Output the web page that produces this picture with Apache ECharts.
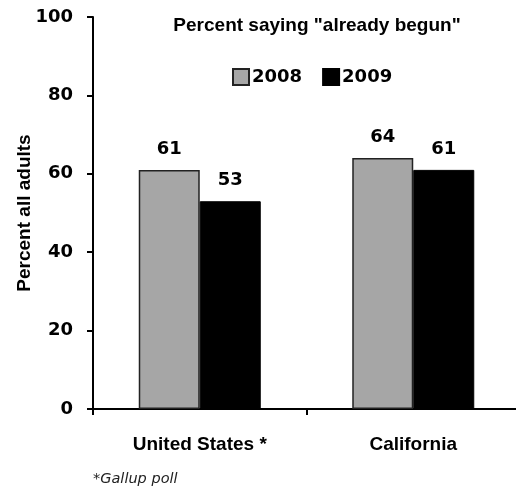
<!DOCTYPE html>
<html>
<head>
<meta charset="utf-8">
<script src="https://cdn.jsdelivr.net/npm/echarts@6/dist/echarts.min.js"></script>
<style>
  html, body { margin: 0; padding: 0; background: #fff; }
  #chart { width: 516px; height: 489px; }
</style>
</head>
<body>
<div id="chart"></div>
<script>
// Share of adults saying global warming has "already begun"
const categories = ['United States *', 'California'];
const years = ['2008', '2009'];
const values2008 = [61, 64];
const values2009 = [53, 61];
const yTicks = [0, 20, 40, 60, 80, 100];

const numFont = 'DejaVu Sans';
const textFont = 'Liberation Sans';

const chart = echarts.init(document.getElementById('chart'), null, { renderer: 'canvas' });

const labelStyle = {
  show: true,
  position: 'top',
  distance: 12,
  fontFamily: numFont,
  fontWeight: 'bold',
  fontSize: 18,
  color: '#000'
};

chart.setOption({
  animation: false,
  backgroundColor: '#fff',
  title: {
    text: 'Percent saying "already begun"',
    left: 312,
    top: 11,
    textAlign: 'center',
    textStyle: { fontFamily: textFont, fontWeight: 'bold', fontSize: 19, color: '#000' }
  },
  legend: {
    data: years,
    left: 227,
    top: 63,
    itemWidth: 16,
    itemHeight: 16,
    itemGap: 20,
    icon: 'rect',
    textStyle: { fontFamily: numFont, fontWeight: 'bold', fontSize: 18, color: '#000', padding: [0, 0, 0, -2] }
  },
  grid: { left: 93, right: -4, top: 17, bottom: 80, containLabel: false, outerBoundsMode: 'none' },
  xAxis: {
    type: 'category',
    data: categories,
    axisLine: { lineStyle: { color: '#000', width: 2 } },
    axisTick: { show: true, length: 6, inside: false, lineStyle: { color: '#000', width: 2 } },
    axisLabel: { margin: 26, fontFamily: textFont, fontWeight: 'bold', fontSize: 19, color: '#000' }
  },
  yAxis: {
    type: 'value',
    min: yTicks[0],
    max: yTicks[yTicks.length - 1],
    interval: yTicks[1] - yTicks[0],
    name: 'Percent all adults',
    nameLocation: 'middle',
    nameGap: 59,
    nameMoveOverlap: false,
    nameTextStyle: { fontFamily: textFont, fontWeight: 'bold', fontSize: 19, color: '#000' },
    axisLine: { show: true, lineStyle: { color: '#000', width: 2 } },
    axisTick: { show: true, length: 6, lineStyle: { color: '#000', width: 2 } },
    splitLine: { show: false },
    axisLabel: { margin: 20, fontFamily: numFont, fontWeight: 'bold', fontSize: 18, color: '#000' }
  },
  series: [
    {
      name: years[0],
      type: 'bar',
      data: values2008,
      barWidth: 61,
      barGap: '0%',
      itemStyle: { color: '#a6a6a6', borderColor: '#222', borderWidth: 1.5 },
      label: labelStyle
    },
    {
      name: years[1],
      type: 'bar',
      data: values2009,
      barWidth: 61,
      barGap: '0%',
      itemStyle: { color: '#000', borderColor: '#000', borderWidth: 1 },
      label: labelStyle
    }
  ],
  graphic: [{
    type: 'text',
    left: 93,
    top: 472,
    style: { text: '*Gallup poll', fontFamily: numFont, fontStyle: 'italic', fontSize: 14.5, fill: '#222' }
  }]
});
</script>
</body>
</html>
